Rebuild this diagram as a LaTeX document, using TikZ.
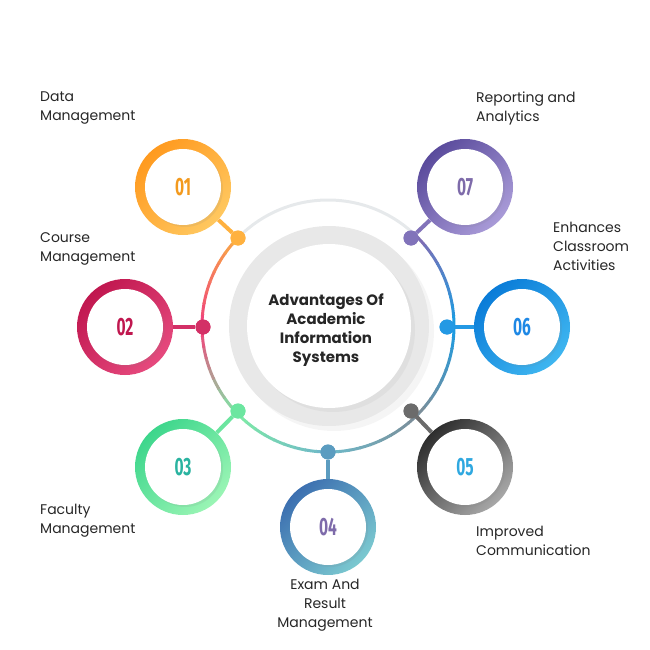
\documentclass[tikz,border=0pt]{standalone}
\usepackage{fontspec}
\setmainfont{Poppins}
\newfontfamily\numfont{Fira Sans}
\usetikzlibrary{shadows}
\definecolor{cOr}{HTML}{F9A845}
\definecolor{cPk}{HTML}{F0457A}
\definecolor{cGr}{HTML}{7EE8A8}
\definecolor{cTe}{HTML}{6FB8C8}
\definecolor{cGb}{HTML}{7A8E9A}
\definecolor{cBl}{HTML}{1E9BE0}
\definecolor{cPu}{HTML}{7D6EB5}
\definecolor{cLg}{HTML}{E6E9EB}
\begin{document}
\begin{tikzpicture}[x=1pt,y=-1pt,
 lbl/.style={font=\fontsize{14}{19}\selectfont, align=left, anchor=north west, inner sep=0, text=black!85},
 ctr/.style={font=\fontsize{15}{19}\selectfont\bfseries, align=center, inner sep=0, text=black!85},
 dotn/.style={circle, inner sep=0, minimum size=15pt},
 numtxt/.style={font=\fontsize{25}{25}\numfont\bfseries}]
\useasboundingbox (0,0) rectangle (650,650);
\coordinate (C) at (328,326);
% light top arc
\draw[line width=3pt, cLg] (C) ++(225:126) arc[start angle=225,end angle=315,radius=126];
% gradient arcs
\foreach \a/\b/\ca/\cb in {180/225/cPk/cOr, 135/180/cGr/cPk, 90/135/cTe/cGr, 45/90/cGb/cTe, 0/45/cBl/cGb, -45/0/cPu/cBl} {
  \foreach \i in {0,...,8} {
    \pgfmathsetmacro{\s}{\a+\i*(\b-\a)/9}
    \pgfmathsetmacro{\p}{100-\i*100/8}
    \draw[line width=3pt, \ca!\p!\cb] (C) ++(\s:126) arc[start angle=\s,end angle=\s+(\b-\a)/9+0.6,radius=126];
  }
}
% center discs
\node[circle, fill=black!9, minimum size=200pt, inner sep=0, drop shadow={opacity=0.08,shadow xshift=5pt,shadow yshift=-5pt}] (disc) at (329,326) {};
\node[circle, fill=white, minimum size=164pt, inner sep=0, drop shadow={opacity=0.08,shadow xshift=4pt,shadow yshift=-4pt}] (inner) at (329,326) {};
\node[ctr] (title) at (326,330) {Advantages Of\\Academic\\Information\\Systems};
% satellites
\foreach \n/\x/\y/\dx/\dy/\ca/\cb/\cn in {
 01/183/187/238/238/FF9A1F/FFC860/F39A1E,
 02/125/327/203/327/C0174F/E64A7E/C0174F,
 03/183/467/238/411/3DD68C/9BF5B5/2AB3A0,
 04/328/527/328/452/3C6FB0/7BC9D0/7E6BAA,
 05/465/467/411/411/2E2E2E/A8A8A8/2FA8E0,
 06/522/327/447/327/0A7CD8/3FB6F0/1E88E5,
 07/465/187/411/238/5A4B9C/A99BD8/7E6BAA} {
  \definecolor{sa}{HTML}{\ca}\definecolor{sb}{HTML}{\cb}\definecolor{sn}{HTML}{\cn}
  \node[dotn, fill=sa!50!sb] (d\n) at (\dx,\dy) {};
  \node[circle, minimum size=96pt, inner sep=0, left color=sa, right color=sb, shading angle=45] (s\n) at (\x,\y) {};
  \draw[line width=4pt, sa!50!sb] (s\n) -- (d\n);
  \node[dotn, fill=sa!50!sb] at (d\n) {};
  \node[circle, fill=white, minimum size=76pt, inner sep=0, drop shadow={opacity=0.12,shadow xshift=2pt,shadow yshift=-2pt}] (w\n) at (\x,\y) {};
  \node[numtxt, text=sn] (t\n) at (\x,\y) {\scalebox{0.62}[1]{\n}};
}
% labels
\node[lbl] (l1) at (40,92) {Data\\Management};
\node[lbl] (l2) at (40,232) {Course\\Management};
\node[lbl] (l3) at (40,504) {Faculty\\Management};
\node[lbl, align=center, anchor=north] (l4) at (325,579) {Exam And\\Result\\Management};
\node[lbl] (l5) at (476,526) {Improved\\Communication};
\node[lbl] (l6) at (553,222) {Enhances\\Classroom\\Activities};
\node[lbl] (l7) at (476,92) {Reporting and\\Analytics};
\end{tikzpicture}
\end{document}
